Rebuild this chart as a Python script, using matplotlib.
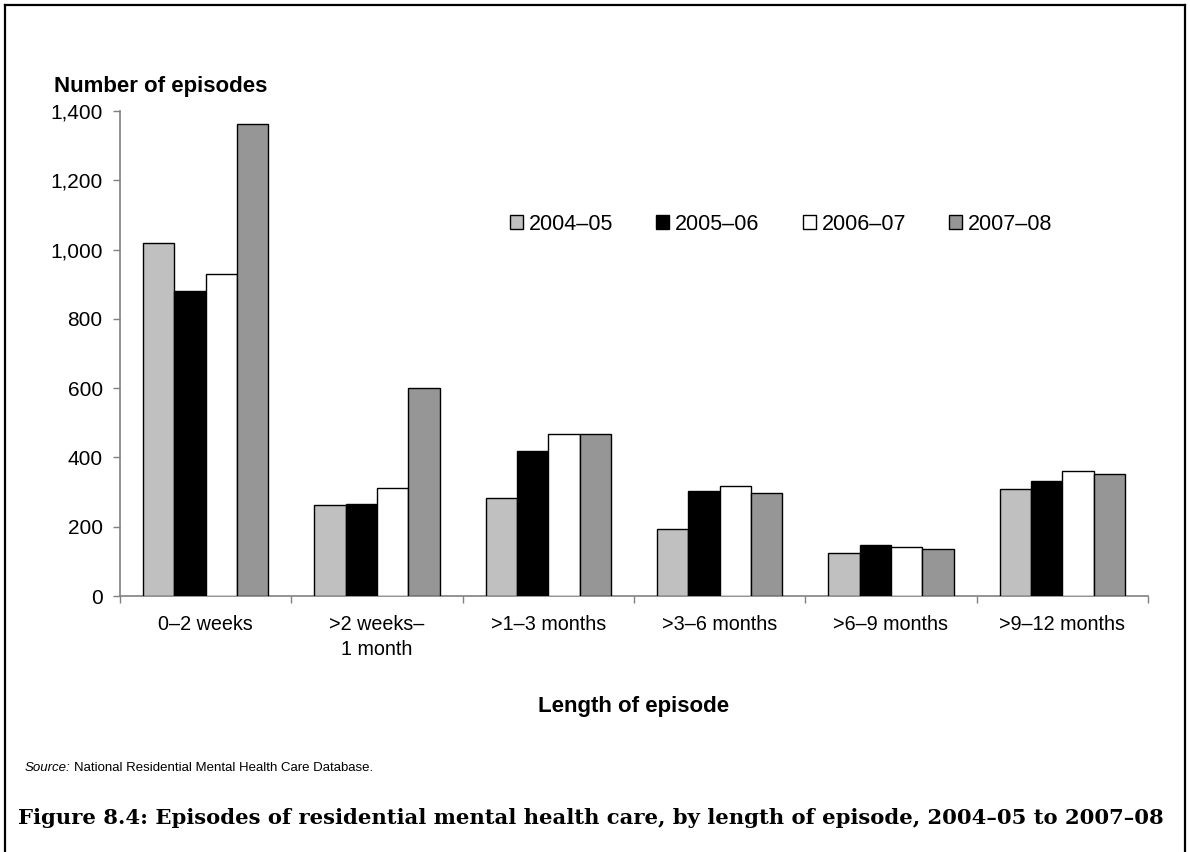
import matplotlib
matplotlib.use("Agg")
import matplotlib.pyplot as plt
from matplotlib.lines import Line2D
from matplotlib.ticker import FuncFormatter
import numpy as np

categories = ["0\u20132 weeks", ">2 weeks\u2013\n1 month", ">1\u20133 months",
              ">3\u20136 months", ">6\u20139 months", ">9\u201312 months"]
series_names = ["2004\u201305", "2005\u201306", "2006\u201307", "2007\u201308"]
v2004 = [1018, 262, 284, 194, 125, 308]
v2005 = [880, 265, 420, 302, 148, 332]
v2006 = [930, 312, 467, 318, 142, 360]
v2007 = [1363, 601, 467, 297, 136, 352]
values = [v2004, v2005, v2006, v2007]
colors = ["#C0C0C0", "#000000", "#FFFFFF", "#969696"]
yticks = [0, 200, 400, 600, 800, 1000, 1200, 1400]
title = ("Figure 8.4: Episodes of residential mental health care, by length of episode, "
         "2004\u201305 to 2007\u201308")

plt.rcParams['font.family'] = ['Liberation Sans', 'DejaVu Sans']

W, H = 1190, 852
fig = plt.figure(figsize=(W / 100, H / 100), dpi=100)
ax = fig.add_axes([120 / W, (H - 596) / H, (1148 - 120) / W, (596 - 111) / H])

x = np.arange(len(categories))
bw = 0.1825
for i, (vals, c, name) in enumerate(zip(values, colors, series_names)):
    ax.bar(x + (i - 1.5) * bw, vals, width=bw, color=c, edgecolor="black",
           linewidth=1.0, label=name, zorder=3)

ax.set_xlim(-0.5, len(categories) - 0.5)
ax.set_ylim(0, 1400)
ax.set_yticks(yticks)
ax.yaxis.set_major_formatter(FuncFormatter(lambda v, p: f"{int(v):,}"))
ax.tick_params(axis='y', length=5, width=1, color="#808080", pad=7.5, labelsize=15)

ax.set_xticks(np.arange(len(categories) + 1) - 0.5)
ax.set_xticklabels([])
ax.set_xticks(x, minor=True)
ax.set_xticklabels(categories, minor=True, fontsize=14.2, linespacing=1.4)
ax.tick_params(axis='x', which='major', length=5, width=1, color="#808080")
ax.tick_params(axis='x', which='minor', length=0, pad=13.5)

for s in ["top", "right"]:
    ax.spines[s].set_visible(False)
for s in ["left", "bottom"]:
    ax.spines[s].set_color("#808080")
    ax.spines[s].set_linewidth(1.2)

fig.text(634 / W, 1 - 712 / H, "Length of episode", fontsize=16, fontweight="bold",
         ha="center", va="baseline")

fig.text(54 / W, 1 - 92 / H, "Number of episodes", fontsize=16, fontweight="bold",
         ha="left", va="baseline")

leg = ax.legend(loc="center left", bbox_to_anchor=((510 - 120) / 1028, (596 - 224) / 485),
                ncol=4, frameon=False, fontsize=15.5, handlelength=0.6, handleheight=0.6,
                handletextpad=0.28, columnspacing=2.0, borderaxespad=0, borderpad=0)

renderer = fig.canvas.get_renderer()
t1 = fig.text(25 / W, 1 - 771 / H, "Source:", fontsize=9.5, style="italic",
              ha="left", va="baseline")
bb = t1.get_window_extent(renderer)
fig.text(bb.x1 / W + 3 / W, 1 - 771 / H, "National Residential Mental Health Care Database.",
         fontsize=9.5, ha="left", va="baseline")

tt = fig.text(18 / W, 1 - 818 / H, title, fontsize=15, fontweight="bold",
              family=["DejaVu Serif"], ha="left", va="center")
tw = tt.get_window_extent(renderer).width
tt.set_fontsize(15 * (1149 / tw))

# border
for xs, ys in [([5, 5], [5, 852]), ([5, 1185], [5, 5]), ([1185, 1185], [5, 852])]:
    fig.add_artist(Line2D([a / W for a in xs], [1 - b / H for b in ys], color="black",
                          linewidth=1.6, transform=fig.transFigure))

fig.savefig("out.png", dpi=100)
